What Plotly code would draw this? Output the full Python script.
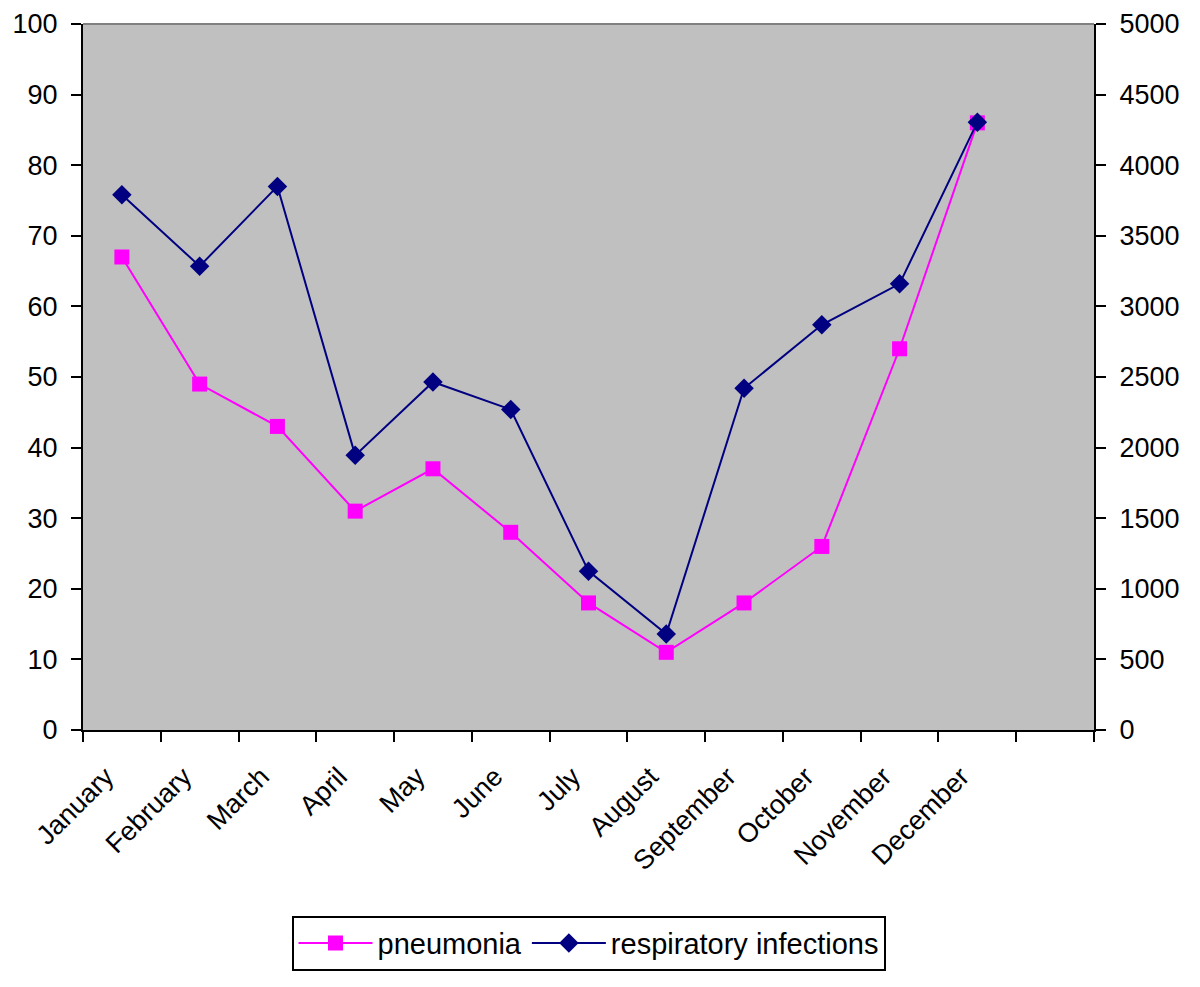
import plotly.graph_objects as go

months = ["January", "February", "March", "April", "May", "June", "July",
          "August", "September", "October", "November", "December"]
slots = months + [" "]
pneumonia = [67, 49, 43, 31, 37, 28, 18, 11, 18, 26, 54, 86]
respiratory = [3790, 3285, 3850, 1945, 2465, 2270, 1125, 680, 2420, 2870, 3160, 4305]
left_ticks = list(range(0, 101, 10))
right_ticks = list(range(0, 5001, 500))

FONT = "Liberation Sans, Arial, sans-serif"

fig = go.Figure()
fig.add_trace(go.Scatter(
    x=months, y=pneumonia, name="pneumonia", mode="lines+markers",
    line=dict(color="#FF00FF", width=2),
    marker=dict(symbol="square", size=15, color="#FF00FF"),
    xaxis="x", yaxis="y"))
fig.add_trace(go.Scatter(
    x=months, y=respiratory, name="respiratory infections", mode="lines+markers",
    line=dict(color="#000080", width=2),
    marker=dict(symbol="diamond", size=15, color="#000080"),
    xaxis="x", yaxis="y2"))

axis_common = dict(showgrid=False, zeroline=False, showline=True,
                   linecolor="black", linewidth=2, tickcolor="black",
                   tickwidth=2, ticklen=10, automargin=False)

fig.update_layout(
    width=1200, height=987,
    margin=dict(l=75, r=114, t=16, b=265, autoexpand=False),
    paper_bgcolor="white", plot_bgcolor="#C0C0C0",
    font=dict(family=FONT, size=27, color="black"),
    showlegend=True,
    legend=dict(orientation="h", x=0.5, xanchor="center", y=-0.263, yanchor="top",
                bordercolor="black", borderwidth=2, bgcolor="white",
                itemwidth=74, font=dict(size=29)),
    xaxis=dict(type="category", categoryorder="array", categoryarray=slots,
               range=[-0.5, 12.5], tickson="boundaries", ticks="outside",
               tickangle=-45, ticklabelshift=-16, ticklabelstandoff=18,
               **axis_common),
    xaxis2=dict(overlaying="x", range=[-0.5, 12.5], tick0=-0.5, dtick=1,
                ticks="inside", showticklabels=False, anchor="y",
                **axis_common),
    yaxis=dict(range=[0, 100], tickvals=left_ticks, ticks="outside",
               ticklabelstandoff=8, ticklabeloverflow="allow", **axis_common),
    yaxis3=dict(overlaying="y", range=[0, 100], tickvals=left_ticks,
                ticks="inside", showticklabels=False, anchor="x",
                **axis_common),
    yaxis2=dict(overlaying="y", side="right", range=[0, 5000],
                tickvals=right_ticks, ticks="outside", anchor="x",
                ticklabelstandoff=8, ticklabeloverflow="allow", **axis_common),
    yaxis4=dict(overlaying="y", side="right", range=[0, 5000],
                tickvals=right_ticks, ticks="inside", showticklabels=False,
                anchor="x", **axis_common),
)
fig.add_shape(type="line", xref="paper", yref="paper", x0=0, x1=1, y0=1, y1=1,
              line=dict(color="#808080", width=2), layer="above")

fig.write_html("out.html")
